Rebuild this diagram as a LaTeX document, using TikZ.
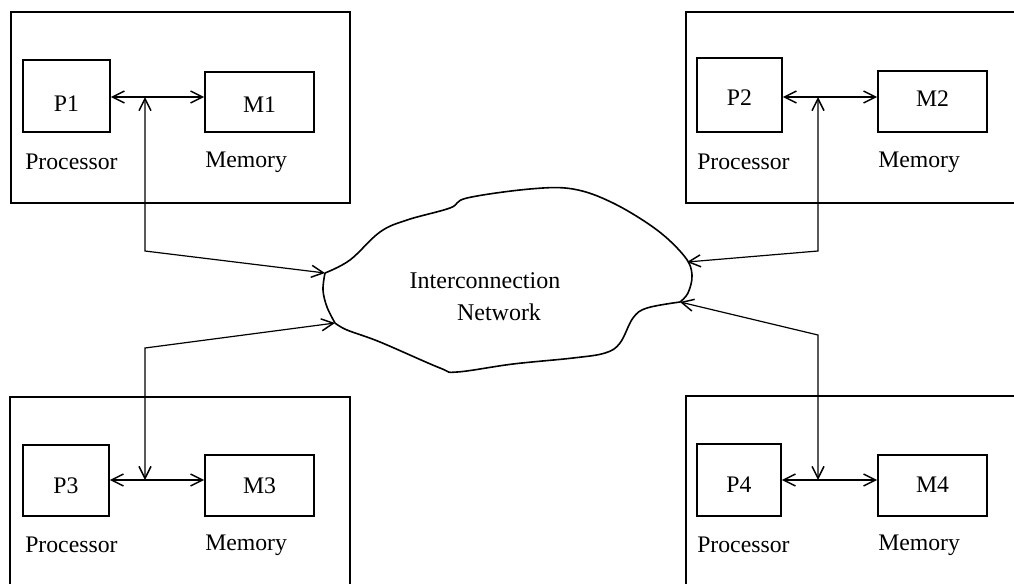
\documentclass[tikz,border=0pt]{standalone}
\usepackage{fontspec}
\setmainfont{Liberation Serif}
\usetikzlibrary{arrows.meta}
\begin{document}
\begin{tikzpicture}[x=0.75pt,y=-0.75pt,
  outer/.style={draw,line width=1.25pt},
  unit/.style={draw,line width=1.25pt,rectangle,inner sep=0pt,text depth=0pt,font=\fontsize{17.8}{20}\selectfont},
  th/.style={text height=#1},
  lbl/.style={anchor=west,inner sep=0pt,font=\fontsize{17.8}{20}\selectfont},
  conn/.style={line width=1.2pt,{Straight Barb[length=9pt,width=9pt,line width=1.1pt]}-{Straight Barb[length=9pt,width=9pt,line width=1.1pt]}},
  thin conn/.style={conn,line width=0.9pt},
  cloudtxt/.style={inner sep=0pt,font=\fontsize{18}{21}\selectfont}]
\useasboundingbox (0,0) rectangle (1014,583);
% outer boxes
\draw[outer] (11,12) rectangle (350,203);
\draw[outer] (686,12) rectangle (1030,203);
\draw[outer] (10,397) rectangle (350,600);
\draw[outer] (686,396) rectangle (1030,600);
% units
\node[unit,th=23.5pt,minimum width=87*0.75pt,minimum height=72*0.75pt] (P1) at (66.5,96) {P1};
\node[unit,th=15.3pt,minimum width=109*0.75pt,minimum height=60*0.75pt] (M1) at (259.5,102) {M1};
\node[unit,th=16pt,minimum width=85*0.75pt,minimum height=74*0.75pt] (P2) at (739.5,95) {P2};
\node[unit,th=8pt,minimum width=109*0.75pt,minimum height=61*0.75pt] (M2) at (932.5,101.5) {M2};
\node[unit,th=19.7pt,minimum width=86*0.75pt,minimum height=71*0.75pt] (P3) at (66,480.5) {P3};
\node[unit,th=11.5pt,minimum width=109*0.75pt,minimum height=61*0.75pt] (M3) at (259.5,485.5) {M3};
\node[unit,th=19pt,minimum width=84*0.75pt,minimum height=72*0.75pt] (P4) at (739,480) {P4};
\node[unit,th=11pt,minimum width=109*0.75pt,minimum height=61*0.75pt] (M4) at (932.5,485.5) {M4};
% labels
\node[lbl] (L1) at (25,162) {Processor};
\node[lbl] (L2) at (205,162) {Memory};
\node[lbl] (L3) at (697,162) {Processor};
\node[lbl] (L4) at (878,162) {Memory};
\node[lbl] (L5) at (25,545) {Processor};
\node[lbl] (L6) at (205,545) {Memory};
\node[lbl] (L7) at (697,545) {Processor};
\node[lbl] (L8) at (878,545) {Memory};
% cloud
\draw[line width=1.2pt] plot[smooth,tension=0.6] coordinates {(325,273) (350,260) (380,232) (407,220) (450,208) (467,198) (530,189) (573,189) (613,203) (657,230) (685,257) (692,275) (688,293) (680,302)};
\draw[line width=1.2pt] plot[smooth,tension=0.6] coordinates {(680,302) (647,308) (633,318) (620,343) (605,353) (573,358) (513,364) (457,372) (440,368) (380,342) (347,330) (335,323)};
\draw[line width=1.2pt] plot[smooth,tension=0.6] coordinates {(335,323) (327,307) (323,290) (325,273)};
\node[cloudtxt] (T1) at (485,281) {Interconnection};
\node[cloudtxt] (T2) at (499,312) {Network};
\coordinate (N1) at (325,273);
\coordinate (N2) at (687,262);
\coordinate (N3) at (335,323);
\coordinate (N4) at (680,302);
% junctions and corners
\coordinate (J1) at (145,97);
\coordinate (C1) at (145,251);
\coordinate (J2) at (818,97);
\coordinate (C2) at (818,251);
\coordinate (J3) at (145,480);
\coordinate (C3) at (145,348);
\coordinate (J4) at (818,480);
\coordinate (C4) at (818,335);
% bus arrows
\draw[conn] (P1.east |- J1) -- (M1.west |- J1);
\draw[conn] (P2.east |- J2) -- (M2.west |- J2);
\draw[conn] (P3.east |- J3) -- (M3.west |- J3);
\draw[conn] (P4.east |- J4) -- (M4.west |- J4);
% network links
\draw[thin conn] (J1) -- (C1) -- (N1);
\draw[thin conn] (J2) -- (C2) -- (N2);
\draw[thin conn] (J3) -- (C3) -- (N3);
\draw[thin conn] (J4) -- (C4) -- (N4);
\end{tikzpicture}
\end{document}
